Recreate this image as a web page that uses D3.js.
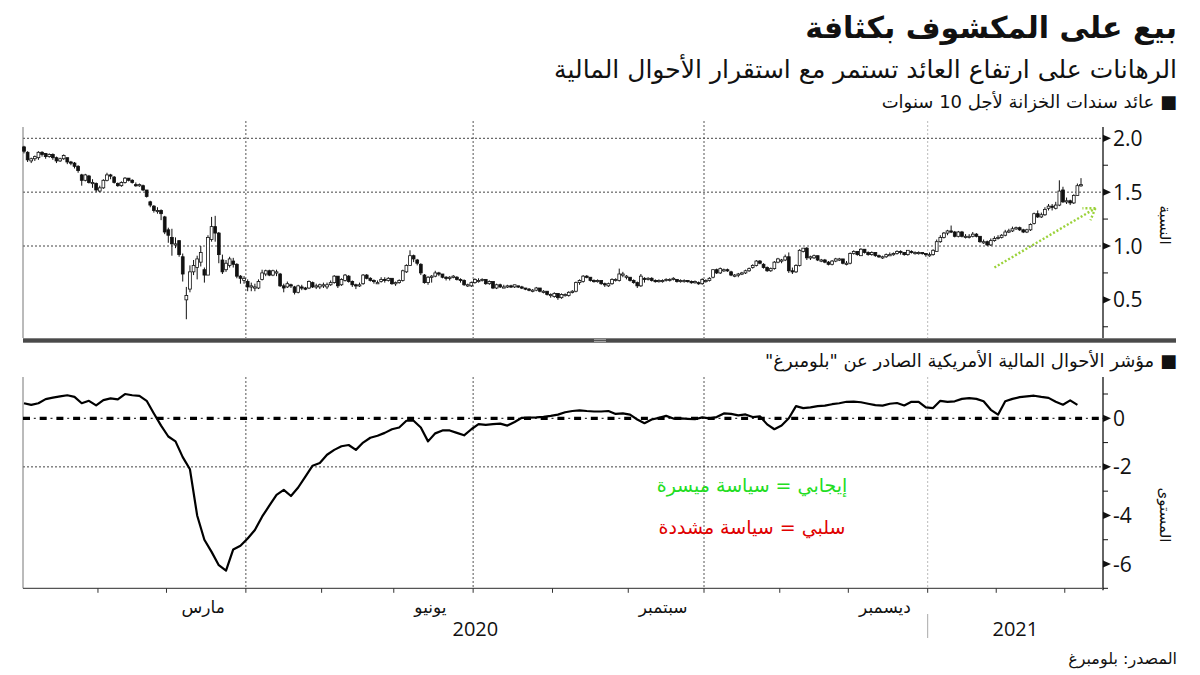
<!DOCTYPE html>
<html><head><meta charset="utf-8">
<script src="https://cdn.jsdelivr.net/npm/d3@7"></script>
<style>
body{margin:0;background:#fff}
svg{display:block}
.ar{font-family:"DejaVu Sans","Noto Sans",sans-serif}
.num{font-family:"Open Sans","DejaVu Sans",sans-serif}
</style>
</head><body>
<svg id="c" width="1200" height="675"></svg>
<script>
// ---------- data ----------
const startDate = "2020-01-02";
const endDate = "2021-03-05";
const holidays = ["2020-01-20","2020-02-17","2020-04-10","2020-05-25","2020-07-03","2020-09-07","2020-10-12","2020-11-11","2020-11-26","2020-12-25","2021-01-01","2021-01-18","2021-02-15"];

// US 10-year Treasury yield, daily OHLC (%)
const yOpen = [
 1.92,1.87,1.79,1.81,1.82,1.87,1.86,1.83,1.85,1.82,1.79,1.81,1.82,1.78,1.77,1.74,1.66,1.61,1.65,1.59,1.58,
 1.51,1.54,1.61,1.66,1.64,1.58,1.56,1.59,1.63,1.61,1.57,1.56,1.56,1.52,1.41,1.37,1.33,1.33,1.27,
 1.15,1.08,1.02,1.05,0.90,0.50,0.60,0.76,0.80,0.85,0.78,0.73,1.06,1.18,1.12,0.87,0.78,0.82,0.86,0.83,0.72,0.68,
 0.67,0.62,0.62,0.61,0.69,0.74,0.77,0.73,0.75,0.74,0.63,0.62,0.64,0.62,0.57,0.62,0.61,0.61,0.66,0.62,0.62,
 0.64,0.62,0.64,0.66,0.72,0.64,0.68,0.72,0.67,0.64,0.63,0.65,0.73,0.70,0.68,0.66,0.67,0.69,0.68,0.70,
 0.65,0.66,0.68,0.76,0.82,0.91,0.87,0.83,0.73,0.66,0.71,0.72,0.75,0.74,0.71,0.70,0.71,0.71,0.69,0.68,0.64,0.63,
 0.66,0.68,0.68,0.69,0.65,0.67,0.61,0.64,0.62,0.62,0.63,0.62,0.63,0.62,0.61,0.60,0.59,0.59,0.61,0.58,0.58,0.55,
 0.53,0.56,0.52,0.55,0.54,0.57,0.58,0.66,0.67,0.72,0.71,0.68,0.67,0.68,0.65,0.63,0.65,0.69,0.68,0.74,0.72,
 0.71,0.68,0.66,0.63,0.70,0.69,0.70,0.68,0.67,0.68,0.68,0.69,0.69,0.69,0.67,0.68,0.68,0.67,0.66,0.66,0.65,
 0.68,0.68,0.71,0.78,0.75,0.78,0.78,0.76,0.73,0.73,0.74,0.75,0.77,0.80,0.82,0.86,0.83,0.80,0.77,0.79,0.85,
 0.86,0.87,0.90,0.77,0.76,0.82,0.95,0.98,0.89,0.89,0.91,0.87,0.87,0.85,0.83,0.86,0.88,0.88,0.84,
 0.84,0.93,0.95,0.91,0.97,0.94,0.92,0.94,0.91,0.89,0.90,0.92,0.92,0.93,0.95,0.94,0.92,0.95,0.93,0.94,0.94,0.93,
 0.91,0.92,0.95,1.04,1.08,1.12,1.14,1.13,1.09,1.13,1.09,1.09,1.09,1.11,1.09,1.04,1.04,1.01,1.05,
 1.07,1.08,1.10,1.13,1.14,1.16,1.17,1.15,1.13,1.15,1.21,1.30,1.27,1.29,1.35,1.37,1.35,1.38,1.52,
 1.42,1.42,1.40,1.47,1.56
];
const yHigh = [
 1.93,1.88,1.82,1.84,1.88,1.88,1.86,1.86,1.86,1.83,1.82,1.85,1.82,1.79,1.78,1.75,1.67,1.67,1.66,1.62,1.59,
 1.56,1.62,1.68,1.67,1.65,1.59,1.60,1.64,1.63,1.62,1.59,1.58,1.57,1.52,1.42,1.38,1.36,1.34,1.28,
 1.17,1.16,1.08,1.05,0.93,0.62,0.82,0.87,0.91,1.00,0.80,1.10,1.27,1.28,1.13,0.92,0.87,0.90,0.89,0.84,0.73,0.72,
 0.69,0.66,0.65,0.69,0.78,0.78,0.78,0.78,0.78,0.75,0.65,0.67,0.65,0.63,0.64,0.64,0.62,0.68,0.67,0.65,0.65,
 0.66,0.66,0.68,0.73,0.72,0.70,0.74,0.73,0.68,0.65,0.66,0.74,0.74,0.71,0.69,0.68,0.71,0.71,0.71,0.70,
 0.67,0.69,0.78,0.83,0.96,0.92,0.88,0.84,0.74,0.72,0.73,0.77,0.76,0.74,0.72,0.72,0.73,0.72,0.70,0.69,0.65,0.67,
 0.70,0.70,0.70,0.69,0.68,0.67,0.65,0.65,0.64,0.64,0.64,0.64,0.63,0.63,0.61,0.61,0.60,0.62,0.61,0.59,0.58,0.56,
 0.57,0.56,0.56,0.56,0.58,0.59,0.67,0.69,0.73,0.73,0.71,0.69,0.69,0.68,0.66,0.66,0.70,0.70,0.79,0.76,0.73,
 0.71,0.69,0.67,0.74,0.71,0.71,0.71,0.69,0.69,0.69,0.70,0.70,0.71,0.69,0.69,0.69,0.68,0.68,0.68,0.67,0.70,
 0.69,0.71,0.78,0.79,0.80,0.79,0.79,0.77,0.74,0.75,0.76,0.78,0.80,0.83,0.87,0.87,0.84,0.81,0.80,0.86,0.89,
 0.88,0.92,0.94,0.80,0.83,0.97,0.98,0.99,0.91,0.92,0.91,0.88,0.88,0.86,0.87,0.89,0.89,0.88,0.86,
 0.94,0.96,0.95,0.98,0.97,0.95,0.95,0.94,0.92,0.91,0.93,0.94,0.94,0.96,0.96,0.94,0.96,0.96,0.95,0.95,0.94,0.93,
 0.94,0.97,1.06,1.10,1.13,1.15,1.19,1.14,1.14,1.14,1.11,1.11,1.13,1.12,1.09,1.06,1.05,1.07,1.09,
 1.10,1.11,1.15,1.16,1.18,1.18,1.18,1.16,1.16,1.21,1.31,1.33,1.31,1.36,1.39,1.39,1.41,1.61,1.55,
 1.45,1.43,1.48,1.58,1.63
];
const yLow = [
 1.86,1.78,1.77,1.79,1.80,1.83,1.81,1.82,1.80,1.77,1.78,1.80,1.76,1.75,1.72,1.68,1.56,1.60,1.58,1.54,1.50,
 1.50,1.53,1.60,1.62,1.58,1.55,1.55,1.58,1.60,1.58,1.55,1.55,1.51,1.45,1.36,1.31,1.30,1.24,1.11,
 1.03,0.91,0.98,0.90,0.67,0.32,0.57,0.73,0.69,0.81,0.66,0.73,1.04,1.04,0.84,0.74,0.76,0.80,0.80,0.70,0.65,0.65,
 0.58,0.58,0.58,0.60,0.68,0.72,0.72,0.72,0.72,0.62,0.57,0.61,0.61,0.55,0.56,0.59,0.59,0.60,0.61,0.60,0.60,
 0.61,0.60,0.63,0.65,0.61,0.63,0.67,0.66,0.62,0.60,0.62,0.64,0.69,0.67,0.65,0.65,0.66,0.66,0.67,0.64,
 0.63,0.65,0.67,0.75,0.82,0.85,0.82,0.73,0.65,0.64,0.66,0.71,0.72,0.70,0.68,0.68,0.70,0.68,0.66,0.63,0.62,0.62,
 0.65,0.66,0.67,0.64,0.64,0.60,0.60,0.61,0.61,0.61,0.61,0.61,0.61,0.60,0.59,0.58,0.57,0.58,0.57,0.56,0.54,0.52,
 0.52,0.50,0.51,0.53,0.53,0.56,0.57,0.64,0.66,0.70,0.67,0.66,0.66,0.64,0.62,0.62,0.64,0.67,0.67,0.71,0.69,
 0.67,0.65,0.61,0.62,0.66,0.68,0.67,0.66,0.66,0.66,0.67,0.67,0.68,0.66,0.66,0.66,0.66,0.65,0.65,0.64,0.64,
 0.66,0.67,0.70,0.74,0.74,0.76,0.76,0.72,0.71,0.71,0.73,0.74,0.76,0.79,0.81,0.83,0.79,0.76,0.76,0.78,0.84,
 0.84,0.86,0.75,0.74,0.75,0.81,0.94,0.87,0.87,0.88,0.86,0.85,0.84,0.82,0.82,0.85,0.86,0.83,0.82,
 0.83,0.92,0.91,0.91,0.93,0.91,0.91,0.90,0.89,0.88,0.89,0.91,0.91,0.92,0.92,0.91,0.91,0.93,0.92,0.92,0.92,0.90,
 0.90,0.91,0.95,1.03,1.07,1.10,1.12,1.08,1.08,1.08,1.07,1.07,1.08,1.08,1.03,1.02,1.00,1.00,1.04,
 1.06,1.07,1.09,1.12,1.13,1.15,1.14,1.12,1.12,1.14,1.20,1.26,1.26,1.28,1.33,1.33,1.34,1.37,1.40,
 1.39,1.38,1.39,1.47,1.55
];
const yClose = [
 1.88,1.80,1.81,1.83,1.87,1.85,1.83,1.85,1.82,1.79,1.81,1.84,1.78,1.77,1.74,1.70,1.61,1.66,1.59,1.59,1.52,
 1.54,1.61,1.66,1.65,1.59,1.56,1.59,1.63,1.61,1.59,1.56,1.57,1.52,1.46,1.38,1.33,1.33,1.30,1.13,
 1.10,1.02,1.02,0.92,0.74,0.54,0.76,0.82,0.88,0.94,0.73,1.08,1.18,1.12,0.92,0.76,0.84,0.88,0.83,0.72,0.70,0.70,
 0.62,0.63,0.62,0.67,0.75,0.77,0.73,0.77,0.76,0.63,0.61,0.65,0.63,0.57,0.63,0.61,0.60,0.67,0.62,0.63,0.64,
 0.64,0.64,0.66,0.72,0.63,0.69,0.73,0.67,0.64,0.63,0.64,0.73,0.70,0.68,0.67,0.66,0.69,0.68,0.70,0.65,
 0.66,0.68,0.77,0.82,0.91,0.88,0.84,0.75,0.66,0.71,0.72,0.75,0.74,0.71,0.70,0.71,0.72,0.69,0.68,0.64,0.64,0.66,
 0.69,0.68,0.69,0.65,0.67,0.61,0.64,0.62,0.62,0.63,0.62,0.64,0.62,0.61,0.60,0.59,0.59,0.61,0.58,0.58,0.55,0.55,
 0.56,0.52,0.55,0.55,0.57,0.58,0.66,0.68,0.72,0.71,0.68,0.67,0.68,0.65,0.64,0.65,0.69,0.69,0.74,0.74,0.72,
 0.68,0.66,0.63,0.72,0.69,0.70,0.68,0.67,0.68,0.68,0.69,0.69,0.70,0.67,0.68,0.68,0.67,0.66,0.67,0.65,0.69,
 0.68,0.70,0.78,0.75,0.79,0.78,0.77,0.73,0.73,0.74,0.75,0.77,0.79,0.82,0.86,0.84,0.80,0.77,0.79,0.85,0.88,
 0.87,0.90,0.77,0.76,0.82,0.96,0.98,0.89,0.90,0.91,0.87,0.87,0.85,0.83,0.86,0.88,0.88,0.84,0.84,
 0.93,0.95,0.92,0.97,0.94,0.92,0.94,0.91,0.90,0.90,0.92,0.92,0.93,0.95,0.94,0.92,0.96,0.94,0.94,0.94,0.93,0.92,
 0.92,0.96,1.04,1.08,1.12,1.14,1.13,1.09,1.13,1.09,1.09,1.09,1.11,1.09,1.04,1.04,1.01,1.05,1.07,
 1.08,1.10,1.13,1.14,1.16,1.17,1.15,1.13,1.15,1.20,1.30,1.27,1.29,1.34,1.37,1.36,1.38,1.51,1.41,
 1.42,1.40,1.47,1.56,1.57
];

// Bloomberg US Financial Conditions Index, one reading every 2nd trading day
const fciStep = 2;
const fciValues = [
 0.62,0.55,0.62,0.79,0.85,0.90,0.95,0.88,0.62,0.72,
 0.53,0.75,0.82,0.78,1.00,0.95,0.92,0.72,0.20,-0.30,
 -0.75,-0.95,-1.60,-2.10,-4.00,-5.00,-5.50,-6.05,-6.27,-5.40,
 -5.25,-4.95,-4.60,-4.05,-3.60,-3.15,-2.95,-3.20,-2.85,-2.40,
 -1.95,-1.84,-1.50,-1.30,-1.15,-1.10,-1.30,-1.00,-0.80,-0.72,
 -0.60,-0.45,-0.38,-0.10,-0.10,-0.38,-0.95,-0.62,-0.50,-0.50,
 -0.60,-0.70,-0.45,-0.24,-0.27,-0.24,-0.22,-0.30,-0.15,0.02,
 0.03,0.04,0.06,0.10,0.15,0.25,0.30,0.33,0.30,0.28,
 0.28,0.30,0.18,0.20,0.15,-0.05,-0.20,-0.05,0.02,0.10,
 -0.01,0.00,-0.02,-0.04,0.04,0.00,0.05,0.20,0.18,0.12,
 0.16,0.05,0.08,-0.25,-0.45,-0.30,0.00,0.50,0.42,0.45,
 0.50,0.52,0.58,0.62,0.68,0.69,0.66,0.60,0.54,0.52,
 0.60,0.63,0.53,0.68,0.68,0.45,0.42,0.72,0.68,0.70,
 0.80,0.83,0.80,0.70,0.35,0.15,0.70,0.80,0.87,0.90,
 0.93,0.88,0.84,0.68,0.56,0.74,0.55
];

const topMajorTicks = [2.0, 1.5, 1.0, 0.5];
const topMinorTicks = [1.75, 1.25, 0.75, 0.25];
const topGridTicks = [2.0, 1.5, 1.0];
const botMajorTicks = [0, -2, -4, -6];
const botMinorTicks = [1, -1, -3, -5, -7];
const botGridTicks = [-2];
const labelMonths = ["2020-03", "2020-06", "2020-09", "2020-12"];
const monthNames = ["مارس", "يونيو", "سبتمبر", "ديسمبر"];
const yearNames = ["2020", "2021"];
const arrowFrom = [269, 0.80];   // [trading-day index, yield]
const arrowTo = [297, 1.35];

const texts = {
  title: "بيع على المكشوف بكثافة",
  subtitle: "الرهانات على ارتفاع العائد تستمر مع استقرار الأحوال المالية",
  legendTop: "■ عائد سندات الخزانة لأجل 10 سنوات",
  legendBottom: "■ مؤشر الأحوال المالية الأمريكية الصادر عن \"بلومبرغ\"",
  yTitleTop: "النسبة",
  yTitleBottom: "المستوى",
  positive: "إيجابي = سياسة ميسرة",
  negative: "سلبي = سياسة مشددة",
  source: "المصدر: بلومبرغ"
};

// ---------- build ----------
const parse = d3.utcParse("%Y-%m-%d"), fmt = d3.utcFormat("%Y-%m-%d"), fmtM = d3.utcFormat("%Y-%m");
const dates = d3.utcDays(parse(startDate), d3.utcDay.offset(parse(endDate), 1))
  .filter(d => d.getUTCDay() % 6 !== 0 && !holidays.includes(fmt(d)));
const N = dates.length;
const candles = dates.map((d, i) => ({i, d, o: yOpen[i], h: yHigh[i], l: yLow[i], c: yClose[i], pc: i ? yClose[i-1] : yOpen[i]}));

const L = 23, R = 1103;
const topT = 125, topB = 338, botT = 377, botB = 588.3;

const x = d3.scaleLinear().domain([0, N - 1]).range([24, 1081]);
const yT = d3.scaleLinear().domain([0, 2]).range([353.7, 138.3]);
const yB = d3.scaleLinear().domain([-7, 0]).range([588.3, 418.3]);

const svg = d3.select("#c");

// month boundaries
const bounds = [];
for (let i = 1; i < N; i++) {
  if (dates[i].getUTCMonth() !== dates[i-1].getUTCMonth())
    bounds.push({i, x: (x(i-1) + x(i)) / 2, m: dates[i].getUTCMonth()});
}
const quarterBounds = bounds.filter(b => b.m % 3 === 0);

// ---------- grids ----------
function vGrid(y0, y1) {
  svg.append("g").selectAll("line").data(quarterBounds).join("line")
    .attr("x1", d => d.x).attr("x2", d => d.x).attr("y1", y0).attr("y2", y1)
    .attr("stroke", d => d.m === 0 ? "#bbb" : "#555").attr("stroke-width", 1)
    .attr("stroke-dasharray", "2,2");
}
vGrid(121, topB);
vGrid(botT, botB);

svg.append("g").selectAll("line").data(topGridTicks).join("line")
  .attr("x1", L).attr("x2", R).attr("y1", d => yT(d)).attr("y2", d => yT(d))
  .attr("stroke", "#444").attr("stroke-dasharray", "2,2");
svg.append("g").selectAll("line").data(botGridTicks).join("line")
  .attr("x1", L).attr("x2", R).attr("y1", d => yB(d)).attr("y2", d => yB(d))
  .attr("stroke", "#444").attr("stroke-dasharray", "2,2");

// ---------- axes frames ----------
svg.append("line").attr("x1", L).attr("x2", L).attr("y1", topT + 2).attr("y2", topB).attr("stroke", "#777");
svg.append("line").attr("x1", R).attr("x2", R).attr("y1", topT + 2).attr("y2", topB).attr("stroke", "#111").attr("stroke-width", 1.3);
svg.append("line").attr("x1", L).attr("x2", L).attr("y1", botT).attr("y2", botB).attr("stroke", "#777");
svg.append("line").attr("x1", R).attr("x2", R).attr("y1", botT).attr("y2", botB + 2).attr("stroke", "#111").attr("stroke-width", 1.3);
svg.append("line").attr("x1", L).attr("x2", R).attr("y1", botB).attr("y2", botB).attr("stroke", "#555").attr("stroke-width", 1.2);

// separator bar
svg.append("rect").attr("x", L).attr("y", 338.3).attr("width", 1176 - L).attr("height", 4.4).attr("fill", "#4a4a4a");
svg.append("rect").attr("x", 594).attr("y", 339.3).attr("width", 12).attr("height", 0.8).attr("fill", "#bbb");
svg.append("rect").attr("x", 594).attr("y", 341.1).attr("width", 12).attr("height", 0.8).attr("fill", "#bbb");

// bottom month ticks
svg.append("g").selectAll("line").data(bounds).join("line")
  .attr("x1", d => d.x).attr("x2", d => d.x).attr("y1", botB).attr("y2", botB + 4.5)
  .attr("stroke", "#333");

// right axis ticks
function rightTicks(scale, majors, minors) {
  svg.append("g").selectAll("path").data(majors).join("path")
    .attr("d", d => `M${R},${scale(d) - 3.6}L${R + 8},${scale(d)}L${R},${scale(d) + 3.6}Z`)
    .attr("fill", "#111");
  svg.append("g").selectAll("line").data(minors).join("line")
    .attr("x1", R).attr("x2", R + 5).attr("y1", d => scale(d)).attr("y2", d => scale(d))
    .attr("stroke", "#111");
}
rightTicks(yT, topMajorTicks, topMinorTicks);
rightTicks(yB, botMajorTicks, botMinorTicks);

svg.append("g").selectAll("text").data(topMajorTicks).join("text")
  .attr("class", "num").attr("x", R + 10).attr("y", d => yT(d)).attr("dy", "0.36em")
  .attr("font-size", 21).attr("fill", "#111").text(d => d3.format(".1f")(d));
svg.append("g").selectAll("text").data(botMajorTicks).join("text")
  .attr("class", "num").attr("x", R + 10).attr("y", d => yB(d)).attr("dy", "0.36em")
  .attr("font-size", 21).attr("fill", "#111").text(d => d3.format("")(d).replace("−", "-"));

// ---------- candles ----------
const bw = 2.8;
const gC = svg.append("g");
gC.selectAll("line").data(candles).join("line")
  .attr("x1", d => x(d.i)).attr("x2", d => x(d.i))
  .attr("y1", d => yT(Math.max(d.h, d.o, d.c))).attr("y2", d => yT(Math.min(d.l, d.o, d.c)))
  .attr("stroke", d => (d.c < d.o && d.c >= d.pc) ? "#777" : "#111").attr("stroke-width", 1);
gC.selectAll("rect").data(candles).join("rect")
  .attr("x", d => x(d.i) - bw / 2)
  .attr("y", d => yT(Math.max(d.o, d.c)))
  .attr("width", bw)
  .attr("height", d => Math.max(1.2, yT(Math.min(d.o, d.c)) - yT(Math.max(d.o, d.c))))
  .attr("fill", d => d.c >= d.o ? "#fff" : (d.c < d.pc ? "#111" : "#8a8a8a"))
  .attr("stroke", d => (d.c < d.o && d.c >= d.pc) ? "#777" : "#111").attr("stroke-width", 0.8);

// green trend arrow
const ax0 = x(arrowFrom[0]), ay0 = yT(arrowFrom[1]), ax1 = x(arrowTo[0]), ay1 = yT(arrowTo[1]);
const gA = svg.append("g").attr("stroke", "#9bd23a").attr("stroke-width", 2.4).attr("stroke-dasharray", "2,2").attr("fill", "none");
gA.append("line").attr("x1", ax0).attr("y1", ay0).attr("x2", ax1).attr("y2", ay1);
gA.append("line").attr("x1", ax1).attr("y1", ay1).attr("x2", ax1 - 13).attr("y2", ay1);
gA.append("line").attr("x1", ax1).attr("y1", ay1).attr("x2", ax1 - 5).attr("y2", ay1 + 12);

// ---------- FCI line ----------
const fci = fciValues.map((v, k) => ({i: k * fciStep, v}));
svg.append("line").attr("x1", L).attr("x2", R).attr("y1", yB(0)).attr("y2", yB(0))
  .attr("stroke", "#000").attr("stroke-width", 3.2).attr("stroke-dasharray", "7,9.7");
svg.append("line").attr("x1", L).attr("x2", R).attr("y1", yB(0)).attr("y2", yB(0))
  .attr("stroke", "#000").attr("stroke-width", 1).attr("stroke-dasharray", "2,14.7").attr("stroke-dashoffset", -10.8);
svg.append("path").datum(fci)
  .attr("d", d3.line().x(d => x(d.i)).y(d => yB(d.v)))
  .attr("fill", "none").attr("stroke", "#000").attr("stroke-width", 2.2).attr("stroke-linejoin", "round");

// ---------- x labels ----------
const monthMid = labelMonths.map((m, k) => {
  const idx = dates.map((d, i) => fmtM(d) === m ? i : -1).filter(i => i >= 0);
  return {x: (x(idx[0]) + x(idx[idx.length - 1])) / 2, t: monthNames[k]};
});
svg.append("g").selectAll("text").data(monthMid).join("text")
  .attr("class", "ar").attr("x", d => d.x - 3).attr("y", 613).attr("text-anchor", "middle")
  .attr("font-size", 17).attr("fill", "#111").text(d => d.t);
const yearB = bounds.find(b => b.m === 0);
const yearSpans = [[L, yearB.x], [yearB.x, R]];
svg.append("g").selectAll("text").data(yearNames).join("text")
  .attr("class", "num").attr("x", (d, k) => (yearSpans[k][0] + yearSpans[k][1]) / 2).attr("y", 636)
  .attr("text-anchor", "middle").attr("font-size", 20).attr("fill", "#111").text(d => d);
svg.append("line").attr("x1", yearB.x).attr("x2", yearB.x).attr("y1", 614).attr("y2", 638).attr("stroke", "#aaa");

// ---------- titles ----------
function rtl(txt, xx, yy, size, opts = {}) {
  return svg.append("text").attr("class", "ar").attr("x", xx).attr("y", yy)
    .style("direction", "rtl").attr("text-anchor", opts.anchor || "start")
    .attr("font-size", size).attr("font-weight", opts.weight || "normal")
    .attr("fill", opts.fill || "#111").text(txt);
}
rtl(texts.title, 1177, 38, 30, {weight: "bold"});
rtl(texts.subtitle, 1177, 78, 25);
rtl(texts.legendTop, 1177, 108, 18);
rtl(texts.legendBottom, 1177, 367, 18);
rtl(texts.positive, 752, 492, 19, {anchor: "middle", fill: "#22dd22"});
rtl(texts.negative, 752, 534, 19, {anchor: "middle", fill: "#e00000"});
rtl(texts.source, 1177, 664, 16);

svg.append("text").attr("class", "ar").attr("transform", "translate(1160,225) rotate(90)")
  .attr("text-anchor", "middle").attr("font-size", 15).attr("fill", "#111").text(texts.yTitleTop);
svg.append("text").attr("class", "ar").attr("transform", "translate(1160,515) rotate(90)")
  .attr("text-anchor", "middle").attr("font-size", 15).attr("fill", "#111").text(texts.yTitleBottom);
</script>
</body></html>
